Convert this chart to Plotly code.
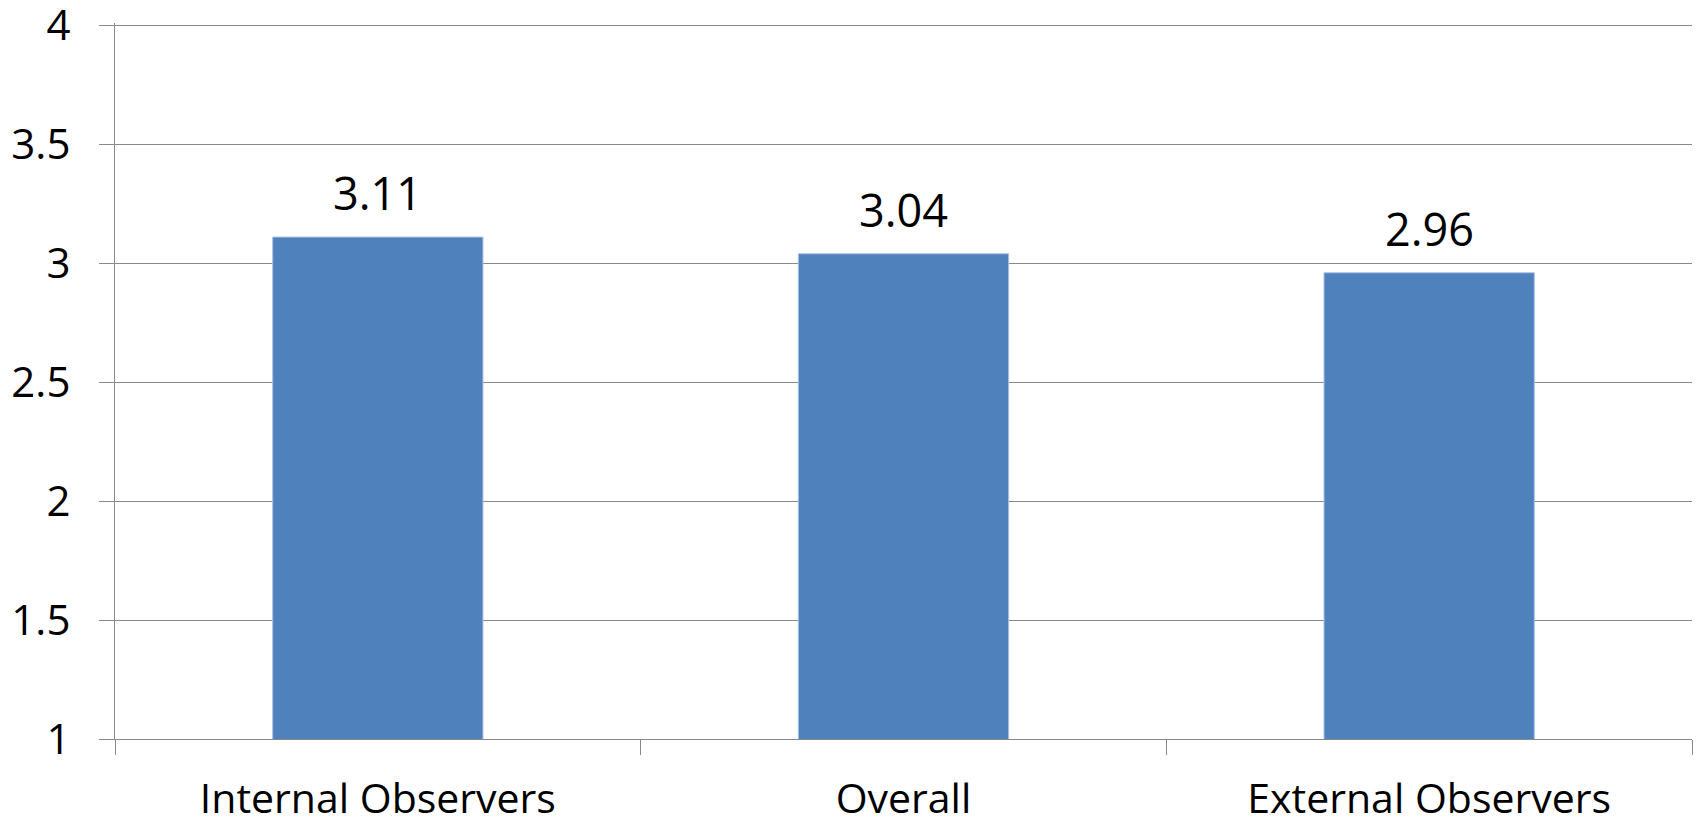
import plotly.graph_objects as go

categories = ["Internal Observers", "Overall", "External Observers"]
values = [3.11, 3.04, 2.96]
value_labels = ["3.11", "3.04", "2.96"]
y_ticks = [1, 1.5, 2, 2.5, 3, 3.5, 4]
y_tick_text = ["1", "1.5", "2", "2.5", "3", "3.5", "4"]

FONT = "Open Sans"
GRID = "#898989"

fig = go.Figure()
fig.add_trace(go.Bar(
    x=categories,
    y=values,
    marker=dict(color="#4F81BD", line=dict(color="#A9C1E0", width=1)),
    hoverinfo="x+y",
))

for c, v, t in zip(categories, values, value_labels):
    fig.add_annotation(x=c, y=v, text=t, showarrow=False,
                       yanchor="bottom", yshift=12,
                       font=dict(family=FONT, size=45, color="#000000"))

fig.update_layout(
    width=1696, height=820, autosize=False,
    margin=dict(l=115, r=4, t=23, b=81),
    paper_bgcolor="white", plot_bgcolor="white",
    bargap=0.6, showlegend=False,
    font=dict(family=FONT, size=42, color="#000000"),
)
fig.update_xaxes(
    type="category", tickson="boundaries", automargin=False,
    ticks="outside", ticklen=15, tickwidth=1.4, tickcolor=GRID,
    showline=True, linecolor=GRID, linewidth=1.4,
    showgrid=False, ticklabelstandoff=24, ticklabeloverflow="allow",
    tickfont=dict(family=FONT, size=41, color="#000000"),
)
fig.update_yaxes(
    range=[1, 4.01], tickvals=y_ticks, ticktext=y_tick_text, automargin=False,
    ticks="outside", ticklen=15, tickwidth=1.4, tickcolor=GRID,
    showline=True, linecolor=GRID, linewidth=1.4,
    showgrid=True, gridcolor=GRID, gridwidth=1.4,
    zeroline=False, ticklabelstandoff=20, ticklabeloverflow="allow",
    tickfont=dict(family=FONT, size=42, color="#000000"),
)

fig.write_html("out.html",
               config={"displayModeBar": False},
               post_script="document.body.style.margin='0';document.body.style.overflow='hidden';")
